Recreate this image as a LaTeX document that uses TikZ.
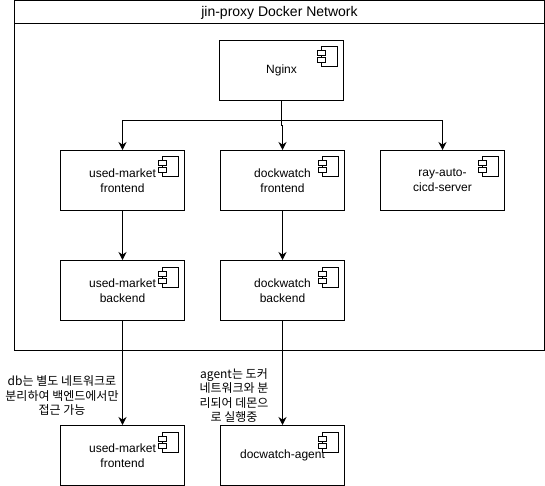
\documentclass[tikz,border=0pt]{standalone}
\usepackage{fontspec}
\setmainfont{Liberation Sans}
\newfontfamily\krfont{Noto Sans CJK KR}
\usetikzlibrary{arrows.meta}
\tikzset{
  x=1pt,y=-1pt,
  base/.style={line width=1pt,draw=black},
  comp/.style={base,fill=white,minimum width=124pt,minimum height=60pt,inner sep=0pt,
    align=center,font=\fontsize{12}{15}\selectfont},
  network/.style={base,inner sep=0pt},
  title/.style={font=\fontsize{14}{16}\selectfont,inner sep=0pt},
  notetext/.style={align=center,inner sep=0pt,font=\fontsize{12}{14.5}\krfont},
  link/.style={base,-{Stealth[length=8pt,width=8pt]}},
}
\newcommand{\complabel}[1]{%
  \draw[base,fill=white] ([xshift=-23pt,yshift=-7pt]#1.north east) rectangle ([xshift=-7pt,yshift=-27pt]#1.north east);
  \draw[base,fill=white] ([xshift=-27pt,yshift=-11pt]#1.north east) rectangle ([xshift=-19pt,yshift=-16pt]#1.north east);
  \draw[base,fill=white] ([xshift=-27pt,yshift=-18pt]#1.north east) rectangle ([xshift=-19pt,yshift=-23pt]#1.north east);
}
\begin{document}
\begin{tikzpicture}
\useasboundingbox (0,0) rectangle (545,486);
\node[network,minimum width=530pt,minimum height=349.5pt] (net) at (279.5,175.25) {};
\coordinate (headL) at (14.5,23.5);
\coordinate (headR) at (544.5,23.5);
\draw[base] (headL) -- (headR);
\node[title] (nettitle) at (279.5,12.5) {jin-proxy Docker Network};

\node[comp] (nginx) at (281.5,70.5) {Nginx};
\node[comp] (umf) at (122.5,180.5) {used-market\\frontend};
\node[comp] (dwf) at (282.5,180.5) {dockwatch\\frontend};
\node[comp] (ray) at (442.5,180.5) {ray-auto-\\cicd-server};
\node[comp] (umb) at (122.5,290.5) {used-market\\backend};
\node[comp] (dwb) at (282.5,290.5) {dockwatch\\backend};
\node[comp] (db) at (122.5,455.5) {used-market\\frontend};
\node[comp] (agent) at (282.5,455.5) {docwatch-agent};
\complabel{nginx}\complabel{umf}\complabel{dwf}\complabel{ray}\complabel{umb}\complabel{dwb}\complabel{db}\complabel{agent}

\coordinate (split) at (281.5,120.5);
\coordinate (jogA) at (281.5,126);
\coordinate (jogB) at (282.5,126);
\draw[link] (nginx.south) -- (split) -| (umf.north);
\draw[link] (split) -| (ray.north);
\draw[link] (split) -- (jogA) -- (jogB) -- (dwf.north);
\draw[link] (umf) -- (umb);
\draw[link] (dwf) -- (dwb);
\draw[link] (umb) -- (db);
\draw[link] (dwb) -- (agent);

\node[notetext] (dbnote) at (62,395.5) {db는 별도 네트워크로\\분리하여 백엔드에서만\\접근 가능};
\node[notetext] (agentnote) at (234,395.5) {agent는 도커\\네트워크와 분\\리되어 데몬으\\로 실행중};
\end{tikzpicture}
\end{document}
